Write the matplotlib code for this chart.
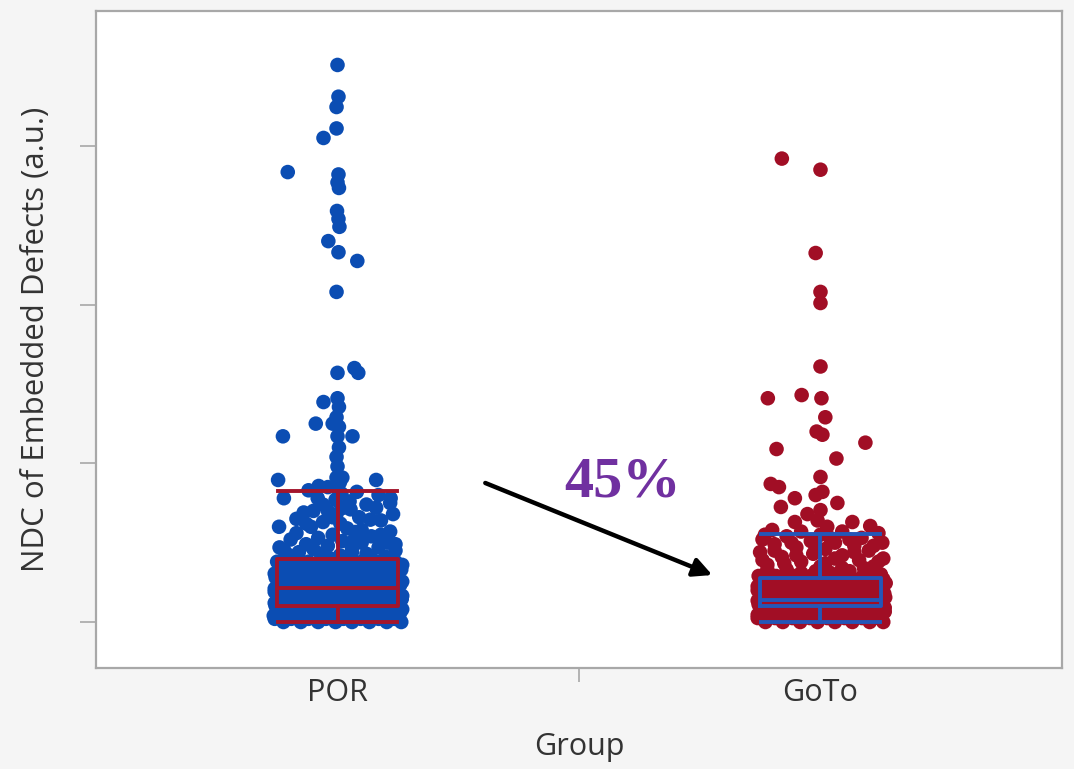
import matplotlib
matplotlib.use("Agg")
import matplotlib.pyplot as plt

# ---------------- data ----------------
groups = ["POR", "GoTo"]

por_values = [
    3.51, 3.31, 3.245, 3.11, 3.05, 2.835, 2.82, 2.77, 2.735, 2.59, 2.54, 2.49, 2.40, 2.33, 2.275, 2.08,
    1.60, 1.57, 1.57, 1.41, 1.386, 1.355, 1.29, 1.25, 1.25, 1.23, 1.17, 1.17, 1.17, 1.10, 1.04, 0.98,
    0.91, 0.91, 0.895, 0.895, 0.857,
    0.84, 0.81, 0.78, 0.78, 0.77, 0.76, 0.75, 0.74, 0.72, 0.71, 0.70, 0.69, 0.68, 0.66, 0.645, 0.64,
    0.63, 0.62, 0.60, 0.60, 0.59, 0.57, 0.567, 0.56, 0.55, 0.54, 0.53, 0.52, 0.51, 0.50, 0.50, 0.49,
    0.48, 0.47, 0.46, 0.45, 0.45, 0.44, 0.43, 0.43, 0.42, 0.41,
    0.74, 0.70, 0.66, 0.65, 0.62, 0.58, 0.55, 0.52, 0.49, 0.47, 0.46, 0.44, 0.42, 0.40, 0.40,
    0.82, 0.80, 0.78, 0.72, 0.68, 0.85, 0.88, 0.83,
    0.38, 0.38, 0.38, 0.38, 0.38, 0.38, 0.38, 0.38,
    0.36, 0.36, 0.36, 0.36, 0.36, 0.36, 0.36, 0.36,
    0.33, 0.33, 0.33, 0.33, 0.33, 0.33, 0.33, 0.33,
    0.305, 0.305, 0.305, 0.305, 0.305, 0.305, 0.305, 0.305,
    0.28, 0.28, 0.28, 0.28, 0.28, 0.28, 0.28, 0.28,
    0.255, 0.255, 0.255, 0.255, 0.255, 0.255, 0.255, 0.255,
    0.235, 0.235, 0.235, 0.235, 0.235, 0.235, 0.235, 0.235,
    0.21, 0.21, 0.21, 0.21, 0.21, 0.21, 0.21, 0.21,
    0.19, 0.19, 0.19, 0.19, 0.19, 0.19, 0.19, 0.19,
    0.165, 0.165, 0.165, 0.165, 0.165, 0.165, 0.165, 0.165,
    0.145, 0.145, 0.145, 0.145, 0.145, 0.145, 0.145, 0.145,
    0.12, 0.12, 0.12, 0.12, 0.12, 0.12, 0.12, 0.12,
    0.10, 0.10, 0.10, 0.10, 0.10, 0.10, 0.10, 0.10,
    0.08, 0.08, 0.08, 0.08, 0.08, 0.08, 0.08, 0.08,
    0.06, 0.06, 0.06, 0.06, 0.06, 0.06, 0.06, 0.06,
    0.04, 0.04, 0.04, 0.04, 0.04, 0.04, 0.04, 0.04,
    0.02, 0.02, 0.02, 0.02, 0.02, 0.02, 0.02, 0.02,
    0.00, 0.00, 0.00, 0.00, 0.00, 0.00, 0.00, 0.00,
]
por_jitter = [
    0.000, 0.002, -0.002, -0.002, -0.029, -0.103, 0.002, 0.000, 0.003, -0.001, 0.002, 0.004, -0.019, 0.002, 0.041, -0.002,
    0.035, 0.000, 0.043, 0.000, -0.029, 0.003, -0.002, -0.045, -0.010, 0.003, 0.000, 0.031, -0.113, 0.003, -0.002, 0.000,
    -0.002, 0.010, -0.123, 0.080, -0.039,
    0.000, 0.008, -0.111, -0.041, -0.004, 0.025, 0.109, 0.060, 0.012, 0.027, -0.020, -0.070, -0.002, 0.045, 0.068, 0.090,
    -0.030, 0.006, -0.121, -0.055, 0.020, 0.109, 0.037, -0.085, -0.010, 0.070, -0.040, -0.097, 0.010, 0.103, 0.050, -0.065,
    -0.020, 0.085, 0.030, -0.110, 0.120, -0.080, -0.035, 0.060, 0.005, 0.100,
    -0.030, -0.050, -0.010, -0.085, -0.065, 0.050, 0.090, 0.035, 0.120, -0.120, -0.050, 0.030, -0.100, 0.070, -0.015,
    0.040, 0.085, 0.110, 0.080, 0.115, -0.020, 0.005, -0.060,
    -0.125, -0.095, -0.060, -0.025, 0.015, 0.050, 0.085, 0.120,
    -0.108, -0.075, -0.042, -0.007, 0.032, 0.068, 0.103, 0.134,
    -0.115, -0.080, -0.045, -0.010, 0.030, 0.065, 0.100, 0.132,
    -0.130, -0.092, -0.058, -0.022, 0.012, 0.048, 0.082, 0.118,
    -0.128, -0.092, -0.058, -0.022, 0.012, 0.048, 0.082, 0.118,
    -0.108, -0.075, -0.042, -0.007, 0.032, 0.068, 0.103, 0.134,
    -0.110, -0.075, -0.040, -0.005, 0.035, 0.070, 0.105, 0.130,
    -0.130, -0.092, -0.058, -0.022, 0.012, 0.048, 0.082, 0.118,
    -0.130, -0.095, -0.060, -0.025, 0.010, 0.045, 0.080, 0.115,
    -0.108, -0.075, -0.042, -0.007, 0.032, 0.068, 0.103, 0.134,
    -0.115, -0.080, -0.045, -0.008, 0.028, 0.062, 0.098, 0.133,
    -0.130, -0.094, -0.060, -0.024, 0.012, 0.046, 0.082, 0.116,
    -0.128, -0.092, -0.056, -0.020, 0.015, 0.052, 0.088, 0.122,
    -0.108, -0.075, -0.040, -0.004, 0.032, 0.068, 0.104, 0.134,
    -0.110, -0.075, -0.038, -0.002, 0.035, 0.070, 0.106, 0.130,
    -0.132, -0.094, -0.058, -0.022, 0.014, 0.050, 0.086, 0.120,
    -0.130, -0.096, -0.060, -0.024, 0.012, 0.048, 0.085, 0.118,
    -0.112, -0.076, -0.040, -0.004, 0.030, 0.066, 0.102, 0.132,
]

goto_values = [
    2.92, 2.85, 2.325, 2.08, 2.01, 1.61,
    1.43, 1.41, 1.41, 1.29, 1.20, 1.18, 1.13, 1.09, 1.03, 0.914, 0.87, 0.85, 0.82, 0.80, 0.78, 0.75,
    0.725, 0.705, 0.68, 0.64, 0.63, 0.63, 0.605, 0.60,
    0.58, 0.57, 0.57, 0.56, 0.55, 0.54, 0.53, 0.52, 0.51, 0.50, 0.50, 0.49, 0.48, 0.47, 0.46, 0.45,
    0.44, 0.43, 0.42, 0.41, 0.40, 0.39, 0.38, 0.37, 0.36, 0.35, 0.34, 0.33, 0.32,
    0.55, 0.53, 0.52, 0.50, 0.48, 0.47, 0.45, 0.44, 0.42, 0.40, 0.39, 0.38, 0.37, 0.35, 0.34,
    0.33, 0.32, 0.31, 0.30, 0.31,
    0.29, 0.29, 0.29, 0.29, 0.29, 0.29, 0.29, 0.29,
    0.27, 0.27, 0.27, 0.27, 0.27, 0.27, 0.27, 0.27,
    0.245, 0.245, 0.245, 0.245, 0.245, 0.245, 0.245, 0.245,
    0.225, 0.225, 0.225, 0.225, 0.225, 0.225, 0.225, 0.225,
    0.20, 0.20, 0.20, 0.20, 0.20, 0.20, 0.20, 0.20,
    0.18, 0.18, 0.18, 0.18, 0.18, 0.18, 0.18, 0.18,
    0.155, 0.155, 0.155, 0.155, 0.155, 0.155, 0.155, 0.155,
    0.135, 0.135, 0.135, 0.135, 0.135, 0.135, 0.135, 0.135,
    0.11, 0.11, 0.11, 0.11, 0.11, 0.11, 0.11, 0.11,
    0.09, 0.09, 0.09, 0.09, 0.09, 0.09, 0.09, 0.09,
    0.065, 0.065, 0.065, 0.065, 0.065, 0.065, 0.065, 0.065,
    0.045, 0.045, 0.045, 0.045, 0.045, 0.045, 0.045, 0.045,
    0.025, 0.025, 0.025, 0.025, 0.025, 0.025, 0.025, 0.025,
    0.00, 0.00, 0.00, 0.00, 0.00, 0.00, 0.00, 0.00,
]
goto_jitter = [
    -0.080, 0.000, -0.010, 0.000, 0.000, 0.000,
    -0.039, -0.109, 0.002, 0.010, -0.008, 0.004, 0.093, -0.091, 0.033, 0.000, -0.103, -0.086, 0.004, -0.010, -0.053, 0.035,
    -0.082, 0.000, -0.027, -0.006, 0.066, -0.053, 0.103, 0.014,
    -0.100, -0.040, 0.045, 0.120, 0.000, -0.070, 0.085, -0.120, -0.020, 0.030, 0.128, -0.095, 0.070, -0.050, 0.010, 0.100,
    -0.125, -0.015, 0.045, -0.080, 0.130, 0.080, -0.040, 0.010, -0.110, 0.110, 0.045, -0.070, -0.010,
    -0.115, 0.020, 0.060, -0.060, 0.110, -0.010, -0.095, 0.070, -0.050, 0.030, -0.120, 0.120, -0.075, 0.000, 0.090,
    -0.110, 0.060, -0.040, 0.125, 0.020,
    -0.128, -0.092, -0.056, -0.020, 0.015, 0.052, 0.088, 0.125,
    -0.112, -0.076, -0.040, -0.004, 0.032, 0.068, 0.104, 0.130,
    -0.112, -0.076, -0.040, -0.004, 0.032, 0.068, 0.104, 0.135,
    -0.130, -0.094, -0.058, -0.022, 0.014, 0.050, 0.086, 0.122,
    -0.130, -0.094, -0.058, -0.022, 0.014, 0.050, 0.086, 0.122,
    -0.112, -0.076, -0.040, -0.004, 0.032, 0.068, 0.104, 0.132,
    -0.115, -0.078, -0.042, -0.006, 0.030, 0.066, 0.102, 0.134,
    -0.130, -0.094, -0.058, -0.022, 0.014, 0.050, 0.086, 0.122,
    -0.128, -0.092, -0.056, -0.020, 0.016, 0.052, 0.088, 0.124,
    -0.112, -0.076, -0.040, -0.004, 0.032, 0.068, 0.104, 0.133,
    -0.112, -0.076, -0.040, -0.004, 0.032, 0.068, 0.104, 0.133,
    -0.130, -0.094, -0.058, -0.022, 0.014, 0.050, 0.086, 0.122,
    -0.130, -0.094, -0.058, -0.022, 0.014, 0.050, 0.086, 0.120,
    -0.114, -0.078, -0.042, -0.006, 0.030, 0.066, 0.102, 0.130,
]

# box statistics: [whisker low, Q1, median, Q3, whisker high]
por_box = [0.0, 0.10, 0.215, 0.40, 0.825]
goto_box = [0.0, 0.10, 0.14, 0.28, 0.555]

change_label = "45%"

# ---------------- style ----------------
BLUE = "#0B4DB3"
RED = "#A10E25"
BOX_RED = "#A3152C"
BOX_BLUE = "#2456B8"
TEXT = "#333333"
GRID = "#A8A8A8"

plt.rcParams["font.family"] = ["Open Sans", "DejaVu Sans"]

fig = plt.figure(figsize=(10.74, 7.69), dpi=100, facecolor="#F5F5F5")
ax = fig.add_axes([0.0894, 0.1313, 0.8994, 0.8544])
ax.set_facecolor("white")

series = [(por_values, por_jitter, BLUE), (goto_values, goto_jitter, RED)]
for i, (vals, jit, col) in enumerate(series):
    xs = [i + j for j in jit]
    ax.scatter(xs, vals, s=110, color=col, edgecolors="none", zorder=2)

box_colors = [BOX_RED, BOX_BLUE]
for i, (b, col) in enumerate(zip([por_box, goto_box], box_colors)):
    st = dict(whislo=b[0], q1=b[1], med=b[2], q3=b[3], whishi=b[4], label=groups[i])
    lp = dict(color=col, linewidth=2.8)
    ax.bxp([st], positions=[i], widths=0.25, showfliers=False, capwidths=0.245,
           boxprops=lp, medianprops=lp, whiskerprops=lp, capprops=lp,
           manage_ticks=False, zorder=3)

# arrow and annotation
ax.annotate("", xy=(0.776, 0.296), xytext=(0.306, 0.876),
            arrowprops=dict(arrowstyle="-|>", color="black", lw=3.2, mutation_scale=28,
                            shrinkA=0, shrinkB=0), zorder=4)
ax.text(0.59, 0.876, change_label, ha="center", va="center", fontsize=42,
        fontweight="bold", color="#7030A0", family=["Liberation Serif", "DejaVu Serif"], zorder=4)

ax.set_xlim(-0.5, 1.5)
ax.set_ylim(-0.29, 3.85)

ax.set_yticks([0, 1, 2, 3])
ax.set_yticklabels([])
ax.tick_params(axis="y", length=11.5, width=1.2, color=GRID)

ax.set_xticks([0, 1])
ax.set_xticklabels(groups, fontsize=22, color=TEXT)
ax.tick_params(axis="x", which="major", length=0, pad=7)
ax.set_xticks([0.5], minor=True)
ax.tick_params(axis="x", which="minor", length=10, width=1.2, color=GRID)

for sp in ax.spines.values():
    sp.set_color(GRID)
    sp.set_linewidth(1.6)

ax.set_xlabel("Group", fontsize=22, color=TEXT)
ax.xaxis.set_label_coords(0.5, -0.097)
ax.set_ylabel("NDC of Embedded Defects (a.u.)", fontsize=22.5, color=TEXT)
ax.yaxis.set_label_coords(-0.047, 0.5)

fig.savefig("out.png", dpi=100, facecolor=fig.get_facecolor())
